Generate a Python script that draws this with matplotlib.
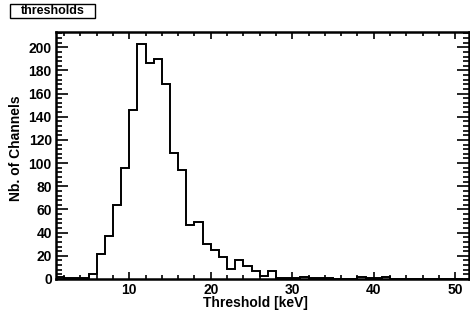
import matplotlib
matplotlib.use('Agg')
import matplotlib.pyplot as plt
from matplotlib.patches import Rectangle
from matplotlib.ticker import MultipleLocator
import numpy as np

plt.rcParams['font.family'] = ['Liberation Sans', 'DejaVu Sans']
plt.rcParams['font.weight'] = 'bold'

# threshold histogram, 1 keV bins
edges = np.arange(1, 52)
counts = [2, 1, 1, 1, 4, 22, 37, 64, 96, 146,
          203, 186, 190, 168, 109, 94, 47, 49, 30, 25,
          19, 9, 16, 11, 7, 3, 7, 1, 1, 1,
          2, 1, 1, 1, 0, 0, 0, 2, 1, 1,
          2, 0, 0, 0, 0, 0, 0, 0, 0, 0]

fig = plt.figure(figsize=(4.7, 3.16), dpi=100)
ax = fig.add_axes([56/470, 1-279/316, 413/470, 247/316])

ax.stairs(counts, edges, color='black', lw=1.4)

ax.set_xlim(1, 51.7)
ax.set_ylim(0, max(counts) * 1.05)

ax.xaxis.set_major_locator(MultipleLocator(10))
ax.xaxis.set_minor_locator(MultipleLocator(2))
ax.yaxis.set_major_locator(MultipleLocator(20))
ax.yaxis.set_minor_locator(MultipleLocator(4))

ax.tick_params(which='both', direction='in', top=True, right=True, width=1.2, labelsize=10)
ax.tick_params(axis='y', which='major', length=8.5, pad=3)
ax.tick_params(axis='y', which='minor', length=4.3)
ax.tick_params(axis='x', which='major', length=5, pad=3)
ax.tick_params(axis='x', which='minor', length=2.8)
for lab in ax.get_xticklabels() + ax.get_yticklabels():
    lab.set_fontweight('bold')
for s in ax.spines.values():
    s.set_linewidth(1.8)

ax.set_xlabel('Threshold [keV]', fontsize=10, fontweight='bold')
ax.set_ylabel('Nb. of Channels', fontsize=10, fontweight='bold')
ax.xaxis.set_label_coords(0.484, -0.068)
ax.yaxis.set_label_coords(-0.08, 0.53)

# title box like ROOT
fig.patches.append(Rectangle((10/470, 1-18/316), 85/470, 14/316, transform=fig.transFigure,
                             facecolor='white', edgecolor='black', lw=1.0))
fig.text(52.5/470, 1-11/316, 'thresholds', ha='center', va='center', fontsize=9, fontweight='bold')

fig.savefig('out.png', dpi=100)
